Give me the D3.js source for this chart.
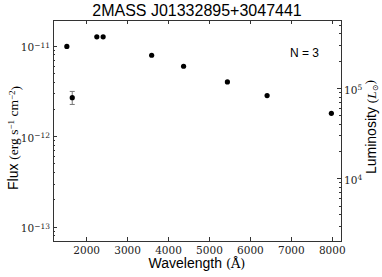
<!DOCTYPE html>
<html>
<meta charset="utf-8">
<style>
  body { margin: 0; background: #fff; }
  .axis path, .axis line { fill: none; stroke: #333; shape-rendering: crispEdges; }
  .tick text { font-family: "DejaVu Serif", "Liberation Serif", serif; font-size: 10.5px; fill: #222; }
</style>
<body>
<svg id="chart" width="382" height="277"></svg>
<script src="https://cdn.jsdelivr.net/npm/d3@7"></script>
<script>
// photometry points (wavelength in angstrom, flux in erg/s/cm^2)
var wavelength = [1528, 1660, 2260, 2415, 3600, 4380, 5450, 6420, 7990];
var flux = [9.8e-12, 2.66e-12, 1.25e-11, 1.25e-11, 7.83e-12, 5.92e-12, 3.97e-12, 2.81e-12, 1.79e-12];
var fluxLo = [null, 2.24e-12, null, null, null, null, null, null, null];
var fluxHi = [null, 3.12e-12, null, null, null, null, null, null, null];
var xTicks = [2000, 3000, 4000, 5000, 6000, 7000, 8000];
var fluxTicks = [1e-13, 1e-12, 1e-11];
var lumTicks = [1e4, 1e5];
var lumFactor = Math.pow(10, 16.466);

var svg = d3.select("#chart");
var m = { left: 53, right: 341, top: 20, bottom: 241 };

var x = d3.scaleLinear().domain([1190, 8225]).range([m.left, m.right]);
var y = d3.scaleLog().domain([6.95e-14, 1.92e-11]).range([m.bottom, m.top]);
var y2 = d3.scaleLog().domain([6.95e-14 * lumFactor, 1.92e-11 * lumFactor]).range([m.bottom, m.top]);

function minors(scale) {
  var d = scale.domain(), out = [];
  var lo = Math.floor(Math.log10(d[0])), hi = Math.ceil(Math.log10(d[1]));
  for (var e = lo; e <= hi; e++) {
    for (var k = 1; k <= 9; k++) {
      var v = k * Math.pow(10, e);
      if (v >= d[0] && v <= d[1]) out.push(v);
    }
  }
  return out;
}
function isMajor(v) {
  var l = Math.log10(v);
  return Math.abs(l - Math.round(l)) < 1e-6;
}
function supLabel(sel) {
  sel.each(function (d) {
    var t = d3.select(this);
    t.text("10");
    t.append("tspan").attr("dy", "-0.5em").attr("font-size", "7.5px")
      .text(String(Math.round(Math.log10(d))).replace("-", "\u2212"));
  });
}

// frame
svg.append("rect").attr("x", m.left).attr("y", m.top)
  .attr("width", m.right - m.left).attr("height", m.bottom - m.top)
  .attr("fill", "none").attr("stroke", "#333").attr("shape-rendering", "crispEdges");

// bottom axis
var gx = svg.append("g").attr("class", "axis")
  .attr("transform", "translate(0," + m.bottom + ")")
  .call(d3.axisBottom(x).tickValues(xTicks).tickFormat(d3.format("d")).tickSizeInner(-4).tickSizeOuter(0).tickPadding(6));
gx.select(".domain").remove();

// top axis
var gt = svg.append("g").attr("class", "axis")
  .attr("transform", "translate(0," + m.top + ")")
  .call(d3.axisTop(x).tickValues(xTicks).tickFormat("").tickSizeInner(-4).tickSizeOuter(0));
gt.select(".domain").remove();

// left axis
var gy = svg.append("g").attr("class", "axis")
  .attr("transform", "translate(" + m.left + ",0)")
  .call(d3.axisLeft(y).tickValues(minors(y)).tickSizeInner(-4).tickSizeOuter(0).tickPadding(4).tickFormat(""));
gy.select(".domain").remove();
gy.selectAll(".tick").each(function (d) {
  var t = d3.select(this);
  if (!isMajor(d)) { t.select("line").attr("x2", 2); t.select("text").remove(); }
  else { t.select("text").attr("x", -3).attr("dy", "0.5em").call(supLabel); }
});

// right axis
var gr = svg.append("g").attr("class", "axis")
  .attr("transform", "translate(" + m.right + ",0)")
  .call(d3.axisRight(y2).tickValues(minors(y2)).tickSizeInner(-4).tickSizeOuter(0).tickFormat(""));
gr.select(".domain").remove();
gr.selectAll(".tick").each(function (d) {
  var t = d3.select(this);
  if (!isMajor(d)) { t.select("line").attr("x2", -2); t.select("text").remove(); }
  else { t.select("text").attr("x", 3).attr("dy", "0.5em").call(supLabel); }
});

// error bars
var eb = wavelength.map(function (w, i) { return { w: w, lo: fluxLo[i], hi: fluxHi[i] }; })
  .filter(function (d) { return d.lo !== null; });
var ge = svg.append("g").attr("stroke", "#777").attr("stroke-width", 1);
ge.selectAll("line.v").data(eb).enter().append("line")
  .attr("x1", function (d) { return x(d.w); }).attr("x2", function (d) { return x(d.w); })
  .attr("y1", function (d) { return y(d.lo); }).attr("y2", function (d) { return y(d.hi); });
ge.selectAll("line.c1").data(eb).enter().append("line")
  .attr("x1", function (d) { return x(d.w) - 2.5; }).attr("x2", function (d) { return x(d.w) + 2.5; })
  .attr("y1", function (d) { return y(d.lo); }).attr("y2", function (d) { return y(d.lo); });
ge.selectAll("line.c2").data(eb).enter().append("line")
  .attr("x1", function (d) { return x(d.w) - 2.5; }).attr("x2", function (d) { return x(d.w) + 2.5; })
  .attr("y1", function (d) { return y(d.hi); }).attr("y2", function (d) { return y(d.hi); });

// points
svg.selectAll("circle.pt").data(wavelength).enter().append("circle")
  .attr("class", "pt")
  .attr("cx", function (d) { return x(d); })
  .attr("cy", function (d, i) { return y(flux[i]); })
  .attr("r", 2.6).attr("fill", "#000");

// title
svg.append("text").attr("x", 197).attr("y", 16).attr("text-anchor", "middle")
  .attr("font-family", "'Liberation Sans', Arial, sans-serif").attr("font-size", "16px")
  .text("2MASS J01332895+3047441");

// N label
svg.append("text").attr("x", 290).attr("y", 57)
  .attr("font-family", "'Liberation Sans', Arial, sans-serif").attr("font-size", "12px")
  .text("N = 3");

// x label
var xl = svg.append("text").attr("x", 197).attr("y", 268).attr("text-anchor", "middle")
  .attr("font-family", "'Liberation Sans', Arial, sans-serif").attr("font-size", "14px");
xl.append("tspan").text("Wavelength ");
xl.append("tspan").attr("font-family", "'DejaVu Serif', serif").attr("font-size", "13px").text("(\u00c5)");

// y label left
var yl = svg.append("text").attr("transform", "translate(18,138) rotate(-90)").attr("text-anchor", "middle")
  .attr("font-family", "'Liberation Sans', Arial, sans-serif").attr("font-size", "14px");
yl.append("tspan").text("Flux ");
var ys = yl.append("tspan").attr("font-family", "'Liberation Serif', serif").attr("font-size", "13.5px");
ys.text("(erg s");
yl.append("tspan").attr("font-family", "'Liberation Serif', serif").attr("font-size", "9px").attr("dy", "-0.5em").text("\u22121");
yl.append("tspan").attr("font-family", "'Liberation Serif', serif").attr("font-size", "13.5px").attr("dy", "0.35em").text(" cm");
yl.append("tspan").attr("font-family", "'Liberation Serif', serif").attr("font-size", "9px").attr("dy", "-0.35em").text("\u22122");
yl.append("tspan").attr("font-family", "'Liberation Serif', serif").attr("font-size", "13.5px").attr("dy", "0.35em").text(")");

// y label right
var rl = svg.append("text").attr("transform", "translate(376,127) rotate(-90)").attr("text-anchor", "middle")
  .attr("font-family", "'Liberation Sans', Arial, sans-serif").attr("font-size", "14px");
rl.append("tspan").text("Luminosity ");
rl.append("tspan").attr("font-family", "'Liberation Serif', serif").attr("font-size", "13.5px").text("(");
rl.append("tspan").attr("font-family", "'Liberation Serif', serif").attr("font-size", "13.5px").attr("font-style", "italic").text("L");
rl.append("tspan").attr("font-family", "'DejaVu Sans', sans-serif").attr("font-size", "8px").attr("dy", "0.3em").text("\u2299");
rl.append("tspan").attr("font-family", "'Liberation Serif', serif").attr("font-size", "13.5px").attr("dy", "-0.3em").text(")");
</script>
</body>
</html>
